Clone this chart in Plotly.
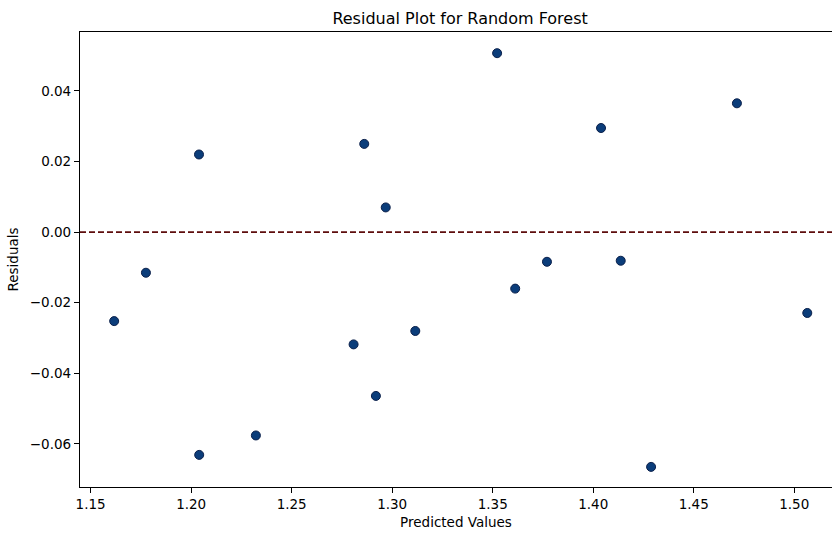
import plotly.graph_objects as go

predicted = [1.1617, 1.1775, 1.2039, 1.2040, 1.2322, 1.2808, 1.2861, 1.2919, 1.2968,
             1.3115, 1.3522, 1.3612, 1.3770, 1.4039, 1.4137, 1.4288, 1.4715, 1.5065]
residuals = [-0.0252, -0.0115, 0.0220, -0.0631, -0.0576, -0.0318, 0.0250, -0.0464, 0.0070,
             -0.0280, 0.0507, -0.0160, -0.0084, 0.0295, -0.0081, -0.0665, 0.0365, -0.0229]

x_ticks = [1.15, 1.20, 1.25, 1.30, 1.35, 1.40, 1.45, 1.50]
x_tick_labels = ["1.15", "1.20", "1.25", "1.30", "1.35", "1.40", "1.45", "1.50"]
y_ticks = [-0.06, -0.04, -0.02, 0.00, 0.02, 0.04]
y_tick_labels = ["\u22120.06", "\u22120.04", "\u22120.02", "0.00", "0.02", "0.04"]

font_family = "DejaVu Sans"

fig = go.Figure()
fig.add_trace(go.Scatter(
    x=predicted, y=residuals, mode="markers",
    marker=dict(size=9, color="#0b3d7a", line=dict(color="#0a1f4a", width=1)),
    showlegend=False, hoverinfo="x+y",
))

fig.add_hline(y=0, line=dict(color="#5e0d0d", width=1.6, dash="6px,3px"))

fig.update_layout(
    width=832, height=533,
    margin=dict(l=80, r=0, t=32, b=46),
    paper_bgcolor="white", plot_bgcolor="white",
    font=dict(family=font_family, size=13.5, color="#000000"),
    title=dict(text="Residual Plot for Random Forest", x=0.553, xanchor="center",
               y=0.966, yanchor="middle", font=dict(size=16, family=font_family)),
)
fig.update_xaxes(
    range=[1.1447, 1.5188], tickvals=x_ticks, ticktext=x_tick_labels,
    showgrid=False, zeroline=False, showline=True, linecolor="black", linewidth=1.2,
    mirror=True, ticks="outside", ticklen=5, tickcolor="black",
    title=dict(text="Predicted Values", font=dict(size=13.5), standoff=6),
)
fig.update_yaxes(
    range=[-0.0722, 0.0567], tickvals=y_ticks, ticktext=y_tick_labels,
    showgrid=False, zeroline=False, showline=True, linecolor="black", linewidth=1.2,
    mirror=False, ticks="outside", ticklen=5, tickcolor="black",
    title=dict(text="Residuals", font=dict(size=13.5), standoff=8),
)

fig.write_html("out.html")
